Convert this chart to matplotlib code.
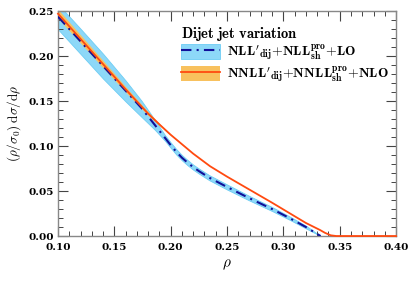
import matplotlib
matplotlib.use("Agg")
import matplotlib.pyplot as plt
from matplotlib.patches import Patch
from matplotlib.lines import Line2D
from matplotlib.ticker import MultipleLocator, FixedLocator

plt.rcParams['mathtext.fontset'] = 'cm'
plt.rcParams['font.family'] = ['DejaVu Serif']

# NLL'+NLL+LO (blue)
rho_b = [0.10, 0.12, 0.14, 0.16, 0.174, 0.186, 0.195, 0.200, 0.205, 0.210, 0.215, 0.220, 0.225, 0.234, 0.25, 0.27, 0.29, 0.306, 0.32, 0.333]
nll = [0.2437, 0.2163, 0.1889, 0.1615, 0.1423, 0.1233, 0.1090, 0.1010, 0.0935, 0.0870, 0.0815, 0.0765, 0.0722, 0.0650, 0.0545, 0.0419, 0.0300, 0.0196, 0.0100, 0.0]
nll_lo = [0.2297, 0.2023, 0.1749, 0.1495, 0.1325, 0.1180, 0.1058, 0.0980, 0.0905, 0.0841, 0.0786, 0.0737, 0.0694, 0.0622, 0.0517, 0.0394, 0.0278, 0.0178, 0.0085, 0.0]
nll_hi = [0.2577, 0.2303, 0.2025, 0.1728, 0.1505, 0.1290, 0.1120, 0.1040, 0.0965, 0.0899, 0.0844, 0.0793, 0.0750, 0.0678, 0.0573, 0.0444, 0.0322, 0.0214, 0.0115, 0.0]

# NNLL'+NNLL+NLO (orange)
rho_o = [0.10, 0.12, 0.14, 0.16, 0.18, 0.19, 0.20, 0.21, 0.22, 0.235, 0.25, 0.27, 0.29, 0.306, 0.32, 0.3325, 0.337, 0.342, 0.347, 0.40]
nnll = [0.247, 0.219, 0.191, 0.163, 0.136, 0.124, 0.1125, 0.102, 0.0915, 0.0775, 0.0660, 0.0515, 0.0370, 0.0250, 0.0145, 0.0067, 0.0035, 0.0008, 0.0, 0.0]
nnll_lo = [0.242, 0.2145, 0.187, 0.160, 0.134, 0.1228, 0.1118, 0.1016, 0.0915, 0.0775, 0.0660, 0.0515, 0.0370, 0.0250, 0.0145, 0.0067, 0.0035, 0.0008, 0.0, 0.0]
nnll_hi = [0.252, 0.2235, 0.195, 0.166, 0.138, 0.1252, 0.1132, 0.1024, 0.0915, 0.0775, 0.0660, 0.0515, 0.0370, 0.0250, 0.0145, 0.0067, 0.0035, 0.0008, 0.0, 0.0]

xticks = [0.10, 0.15, 0.20, 0.25, 0.30, 0.35, 0.40]
yticks = [0.00, 0.05, 0.10, 0.15, 0.20, 0.25]

blue_fill = '#8dd8f8'
blue_edge = '#6dcdf4'
blue_line = '#10109a'
orange_fill = '#f8c15e'
orange_line = '#ff4a10'
dashdot = (0, (5, 2.5, 1, 2.5))

fig = plt.figure(figsize=(4.15, 2.83), dpi=100)
ax = fig.add_axes([0.1398, 0.166, 0.8145, 0.795])

ax.fill_between(rho_b, nll_lo, nll_hi, facecolor=blue_fill, edgecolor=blue_edge, lw=0.6, zorder=1)
ax.fill_between(rho_o, nnll_lo, nnll_hi, facecolor=orange_fill, edgecolor='none', zorder=2)
ax.plot(rho_b, nll, color=blue_line, lw=1.5, ls=dashdot, zorder=3)
ax.plot(rho_o, nnll, color=orange_line, lw=1.3, zorder=4, clip_on=False)

ax.set_xlim(0.10, 0.40)
ax.set_ylim(0.0, 0.25)
ax.xaxis.set_major_locator(FixedLocator(xticks))
ax.yaxis.set_major_locator(FixedLocator(yticks))
ax.xaxis.set_minor_locator(MultipleLocator(0.01))
ax.yaxis.set_minor_locator(MultipleLocator(0.01))
ax.set_xticklabels(['%.2f' % t for t in xticks], fontsize=7.5, fontweight='bold')
ax.set_yticklabels(['%.2f' % t for t in yticks], fontsize=7.5, fontweight='bold')
ax.tick_params(which='both', direction='in', top=True, right=True, color='#444444')
ax.tick_params(which='major', length=7, width=0.8)
ax.tick_params(axis='y', which='major', pad=3)
ax.tick_params(axis='x', which='major', pad=5)
ax.tick_params(which='minor', length=3.5, width=0.7)
for s in ax.spines.values():
    s.set_color('#888888')
    s.set_linewidth(1.0)

ax.set_xlabel(r'$\rho$', fontsize=11, labelpad=4)
ax.set_ylabel(r'$(\rho/\sigma_0)\;\mathrm{d}\sigma/\mathrm{d}\rho$', fontsize=9.5, labelpad=4)

h1 = (Patch(facecolor=blue_fill, edgecolor=blue_edge, lw=0.6),
      Line2D([], [], color=blue_line, lw=1.5, ls=dashdot))
h2 = (Patch(facecolor=orange_fill, edgecolor='none'),
      Line2D([], [], color=orange_line, lw=1.3))
lab1 = r"$\mathbf{NLL}'_{\mathbf{dij}}\mathbf{+NLL}^{\mathbf{pro}}_{\mathbf{sh}}\mathbf{+LO}$"
lab2 = r"$\mathbf{NNLL}'_{\mathbf{dij}}\mathbf{+NNLL}^{\mathbf{pro}}_{\mathbf{sh}}\mathbf{+NLO}$"
leg = ax.legend([h1, h2], [lab1, lab2], title=r'$\mathbf{Dijet\ jet\ variation}$',
                loc='upper left', bbox_to_anchor=(0.36, 0.945), frameon=False,
                fontsize=10, title_fontsize=10.5, handlelength=2.8, handleheight=1.2,
                handletextpad=0.5, labelspacing=0.1, borderpad=0.1, borderaxespad=0.0)
leg._legend_box.align = 'left'
leg._legend_box.sep = 0

fig.savefig('out.png', dpi=100)
